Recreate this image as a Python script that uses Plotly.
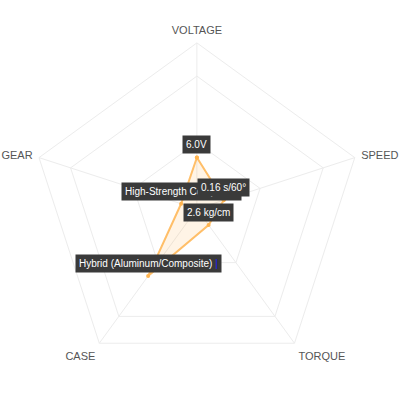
import numpy as np
import plotly.graph_objects as go

# radar axes, clockwise from the top
axes = ["VOLTAGE", "SPEED", "TORQUE", "CASE", "GEAR"]
# normalised scores (0-100)
scores = [31, 17, 12, 50, 10]
# the spec text shown above each point
value_labels = ["6.0V", "0.16 s/60°", "2.6 kg/cm",
                "Hybrid (Aluminum/Composite) <span style='color:#1a1aff'>|</span>",
                "High-Strength Composite"]
grid_levels = [40, 80]
r_max = 100

# polar area on the page (paper fractions)
dom_x = [0.077, 0.905]
dom_y = [0.065, 0.893]


def to_paper(r, i):
    # place a label over point i using the same geometry as the polar subplot
    cx = sum(dom_x) / 2
    cy = sum(dom_y) / 2
    rad = (dom_x[1] - dom_x[0]) / 2
    ang = np.deg2rad(90 - 360 / len(axes) * i)
    return cx + r / r_max * rad * np.cos(ang), cy + r / r_max * rad * np.sin(ang)


fig = go.Figure()
fig.add_trace(go.Scatterpolar(
    r=scores + scores[:1],
    theta=axes + axes[:1],
    mode="lines+markers",
    fill="toself",
    fillcolor="rgba(255,170,60,0.13)",
    line=dict(color="rgba(255,180,80,0.85)", width=2),
    marker=dict(size=4, color="rgba(255,180,80,1)"),
    hoverinfo="skip",
))

# gear first so the speed label sits on top of it
for i in [4, 0, 1, 2, 3]:
    x, y = to_paper(scores[i], i)
    fig.add_annotation(
        x=x, y=y, xref="paper", yref="paper",
        xanchor="center", yanchor="bottom", yshift=3,
        text=value_labels[i], showarrow=False,
        bgcolor="#3a3a3a", borderpad=3,
        font=dict(family="Liberation Sans, Arial", size=10, color="white"),
    )

fig.update_layout(
    width=401, height=401,
    margin=dict(l=0, r=0, t=0, b=0),
    paper_bgcolor="white",
    showlegend=False,
    polar=dict(
        domain=dict(x=dom_x, y=dom_y),
        bgcolor="white",
        gridshape="linear",
        radialaxis=dict(range=[0, r_max], tickvals=grid_levels, showticklabels=False,
                        showline=False, ticks="", gridcolor="#ececec", gridwidth=1),
        angularaxis=dict(direction="clockwise", rotation=90,
                         ticks="outside", ticklen=4, tickcolor="rgba(0,0,0,0)",
                         gridcolor="#ececec", linecolor="#ececec", linewidth=1,
                         tickfont=dict(family="Liberation Sans, Arial", size=11, color="#555555")),
    ),
)

fig.write_html("out.html", config={"displayModeBar": False},
               post_script="document.body.style.margin = '0';")
